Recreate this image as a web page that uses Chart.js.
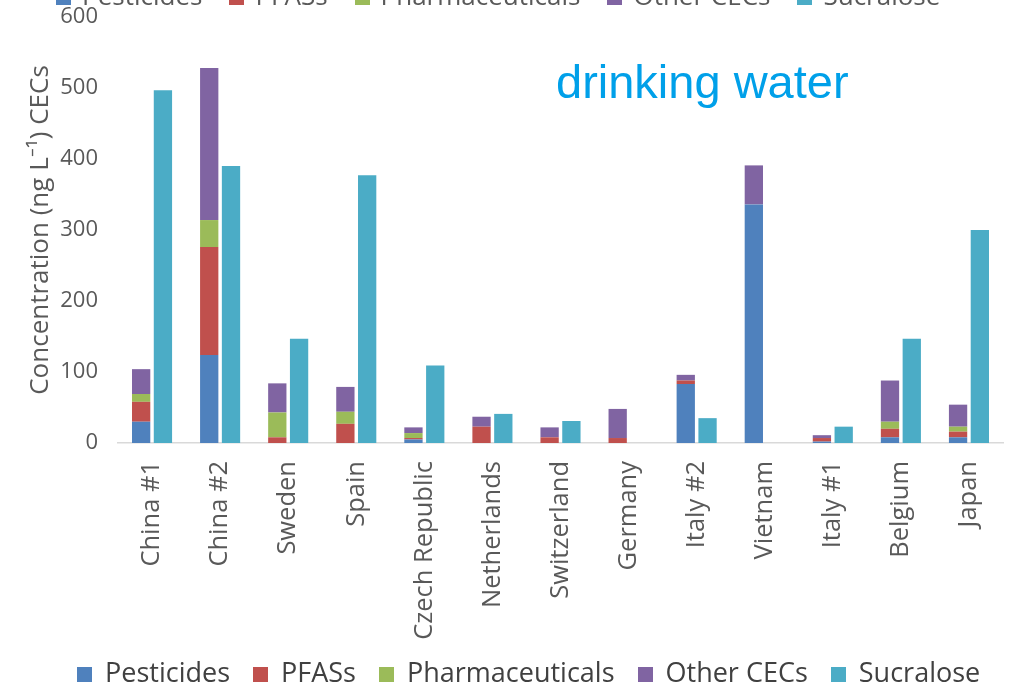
<!DOCTYPE html>
<html>
<head>
<meta charset="utf-8">
<script src="https://cdn.jsdelivr.net/npm/chart.js@4"></script>
<style>
  html, body { margin: 0; padding: 0; background: #fff; }
  #wrap { position: relative; width: 1028px; height: 687px; overflow: hidden; }
  .lg { position: absolute; white-space: nowrap; font-family: "Open Sans", sans-serif; }
  .lg span.box { display: inline-block; }
  #toplegend { top: -23px; left: 56px; font-size: 26px; color: #595959; }
  #toplegend span.box { width: 15px; height: 15px; margin-right: 11px; }
  #toplegend span.item { margin-right: 27px; }
  #botlegend { top: 657px; left: 77px; font-size: 27px; line-height: 30px; color: #404040; }
  #botlegend span.box { width: 15px; height: 15px; margin-right: 13px; }
  #botlegend span.item { margin-right: 23px; }
</style>
</head>
<body>
<div id="wrap">
  <canvas id="myChart" width="1028" height="687"></canvas>
  <div id="toplegend" class="lg"></div>
  <div id="botlegend" class="lg"></div>
</div>
<script>
// countries
var categories = ['China #1', 'China #2', 'Sweden', 'Spain', 'Czech Republic', 'Netherlands',
  'Switzerland', 'Germany', 'Italy #2', 'Vietnam', 'Italy #1', 'Belgium', 'Japan'];

// ng/L
var pesticides      = [30, 124, 0, 0, 5, 0, 0, 0, 83, 336, 2, 8, 8];
var pfass           = [28, 152, 8, 27, 2, 23, 8, 7, 5, 0, 5, 12, 8];
var pharmaceuticals = [11, 38, 35, 17, 7, 0, 0, 0, 0, 0, 0, 10, 7];
var otherCECs       = [35, 214, 41, 35, 8, 14, 14, 41, 8, 55, 4, 58, 31];
var sucralose       = [497, 390, 147, 377, 109, 41, 31, 0, 35, 0, 23, 147, 300];

var yTicks = [0, 100, 200, 300, 400, 500, 600];

var names  = ['Pesticides', 'PFASs', 'Pharmaceuticals', 'Other CECs', 'Sucralose'];
var colors = ['#4f81bd', '#c0504d', '#9bbb59', '#8064a2', '#4bacc6'];

// legends: the figure has one cut off at the top and one at the bottom
['toplegend', 'botlegend'].forEach(function (id) {
  var el = document.getElementById(id);
  names.forEach(function (n, i) {
    el.innerHTML += '<span class="item"><span class="box" style="background:' + colors[i] + '"></span>' + n + '</span>';
  });
});

var label = {
  id: 'label',
  afterDraw: function (chart) {
    var c = chart.ctx;
    c.save();
    c.font = '47px "Liberation Sans", Arial, sans-serif';
    c.fillStyle = '#00a0e9';
    c.textBaseline = 'alphabetic';
    c.fillText('drinking water', 556, 98);
    c.restore();
  }
};

var series = [pesticides, pfass, pharmaceuticals, otherCECs, sucralose];
var ctx = document.getElementById('myChart');
new Chart(ctx, {
  type: 'bar',
  data: {
    labels: categories,
    datasets: series.map(function (d, i) {
      return {
        label: names[i],
        data: d,
        backgroundColor: colors[i],
        stack: i < 4 ? 'cec' : 'suc',
        categoryPercentage: 0.64,
        barPercentage: 0.84
      };
    })
  },
  options: {
    responsive: false,
    animation: false,
    layout: { padding: { top: 17, right: 25, left: 0, bottom: 0 } },
    plugins: {
      tooltip: { enabled: false },
      legend: { display: false }
    },
    scales: {
      x: {
        stacked: true,
        grid: { display: false, drawTicks: false },
        border: { color: '#d9d9d9', width: 1.5 },
        afterFit: function (s) {
          s.height = 687 - 443;
          s.paddingLeft = 0; s.paddingRight = 0;
        },
        ticks: {
          minRotation: 90, maxRotation: 90, padding: 18,
          color: '#595959',
          font: { family: '"Open Sans", sans-serif', size: 25.5 }
        }
      },
      y: {
        stacked: true,
        min: 0, max: 600,
        afterFit: function (s) {
          s.width = 118;
          s.paddingTop = 0; s.paddingBottom = 0;
        },
        afterBuildTicks: function (s) { s.ticks = yTicks.map(function (v) { return { value: v }; }); },
        grid: { display: false },
        border: { display: false },
        ticks: {
          padding: 12,
          color: '#595959',
          font: { family: '"Open Sans", sans-serif', size: 22 }
        },
        title: {
          display: true,
          text: 'Concentration (ng L\u207B\u00B9) CECs',
          color: '#595959',
          font: { family: '"Open Sans", sans-serif', size: 26 },
          padding: { top: 25, bottom: 0 }
        }
      }
    }
  },
  plugins: [label]
});
</script>
</body>
</html>
